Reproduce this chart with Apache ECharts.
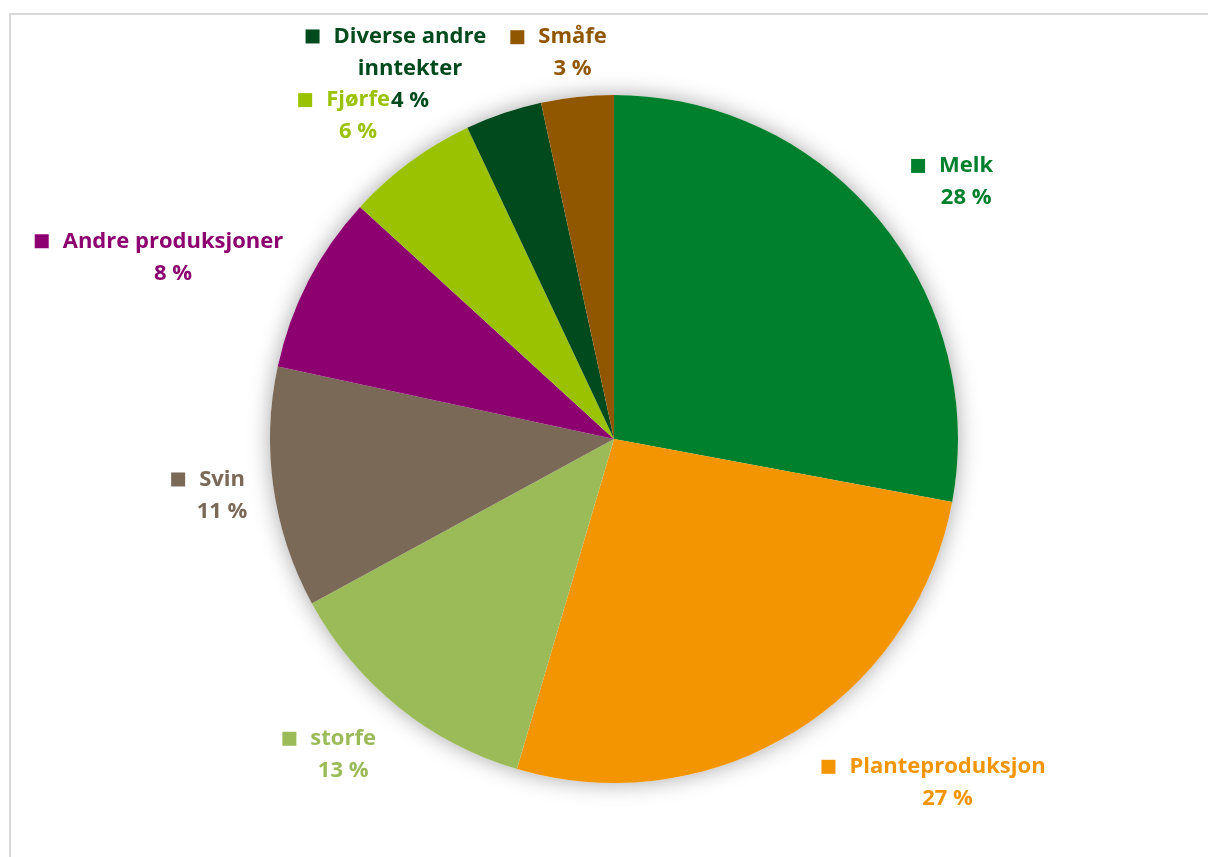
<!DOCTYPE html>
<html>
<head>
<meta charset="utf-8">
<script src="https://cdn.jsdelivr.net/npm/echarts@6/dist/echarts.min.js"></script>
<style>
  html, body { margin: 0; padding: 0; background: #fff; }
  #chart { width: 1208px; height: 857px; }
</style>
</head>
<body>
<div id="chart"></div>
<script>
const categories = ['Melk', 'Planteproduksjon', 'storfe', 'Svin', 'Andre produksjoner', 'Fjørfe', 'Diverse andre\ninntekter', 'Småfe']
const shares = [27.9, 26.6, 12.5, 11.3, 8.4, 6.2, 3.6, 3.4]
const percentLabels = ['28 %', '27 %', '13 %', '11 %', '8 %', '6 %', '4 %', '3 %']
const colors = ['#00802c', '#f29500', '#9bbb59', '#7b6958', '#8c0070', '#9bc200', '#004a1d', '#915600']

// label placement (Excel puts them by hand): angle nudge in degrees, gap beyond the rim
const labelNudge = [3.6, -12.6, 1.7, 0, -4.9, -2.0, -10.1, 0]
const labelGap = [92, 135, 72, 52, 133, 68, 79, 44]

const cx = 614
const cy = 439
const r = 344
const font = "'Open Sans', Lato, sans-serif"

const total = shares.reduce((a, b) => a + b, 0)
// mid angle of each slice, degrees clockwise from 12 o'clock
const midAngles = []
let acc = 0
shares.forEach(v => {
  midAngles.push((acc + v / 2) / total * 360)
  acc += v
})

const chart = echarts.init(document.getElementById('chart'))

const data = categories.map((name, i) => {
  const c = colors[i]
  return {
    name,
    value: shares[i],
    itemStyle: { color: c },
    label: {
      color: c,
      rich: {
        sq: { width: 14, height: 14, backgroundColor: c },
        gap: { width: 14 },
        pad: { width: 28 },
        t: { fontSize: 22, fontWeight: 'bold', fontFamily: font, color: c, lineHeight: 32 }
      }
    }
  }
})

const option = {
  animation: false,
  backgroundColor: '#fff',
  graphic: [
    {
      type: 'rect',
      shape: { x: 10, y: 14, width: 1400, height: 1000 },
      style: { fill: 'none', stroke: '#d9d9d9', lineWidth: 2 },
      silent: true
    }
  ],
  series: [
    {
      // shadow under the whole pie
      type: 'pie',
      z: 1,
      silent: true,
      center: [cx, cy],
      radius: r,
      label: { show: false },
      labelLine: { show: false },
      itemStyle: {
        color: '#fff',
        shadowBlur: 22,
        shadowColor: 'rgba(0, 0, 0, 0.35)'
      },
      data: [{ value: 1, name: '' }]
    },
    {
      type: 'pie',
      z: 3,
      center: [cx, cy],
      radius: r,
      startAngle: 90,
      clockwise: true,
      avoidLabelOverlap: false,
      itemStyle: { borderWidth: 0 },
      label: {
        show: true,
        position: 'outside',
        formatter: function (p) {
          const lines = categories[p.dataIndex].split('\n')
          let s = '{sq|}{gap|}{t|' + lines[0] + '}{pad|}'
          for (let k = 1; k < lines.length; k++) s += '\n{t|' + lines[k] + '}'
          s += '\n{t|' + percentLabels[p.dataIndex] + '}'
          return s
        }
      },
      labelLine: { show: false },
      labelLayout: function (params) {
        const i = params.dataIndex
        const a = (midAngles[i] + labelNudge[i]) * Math.PI / 180
        const d = r + labelGap[i]
        return {
          x: cx + d * Math.sin(a),
          y: cy - d * Math.cos(a),
          align: 'center',
          verticalAlign: 'middle'
        }
      },
      data: data
    }
  ]
}

chart.setOption(option)
</script>
</body>
</html>
